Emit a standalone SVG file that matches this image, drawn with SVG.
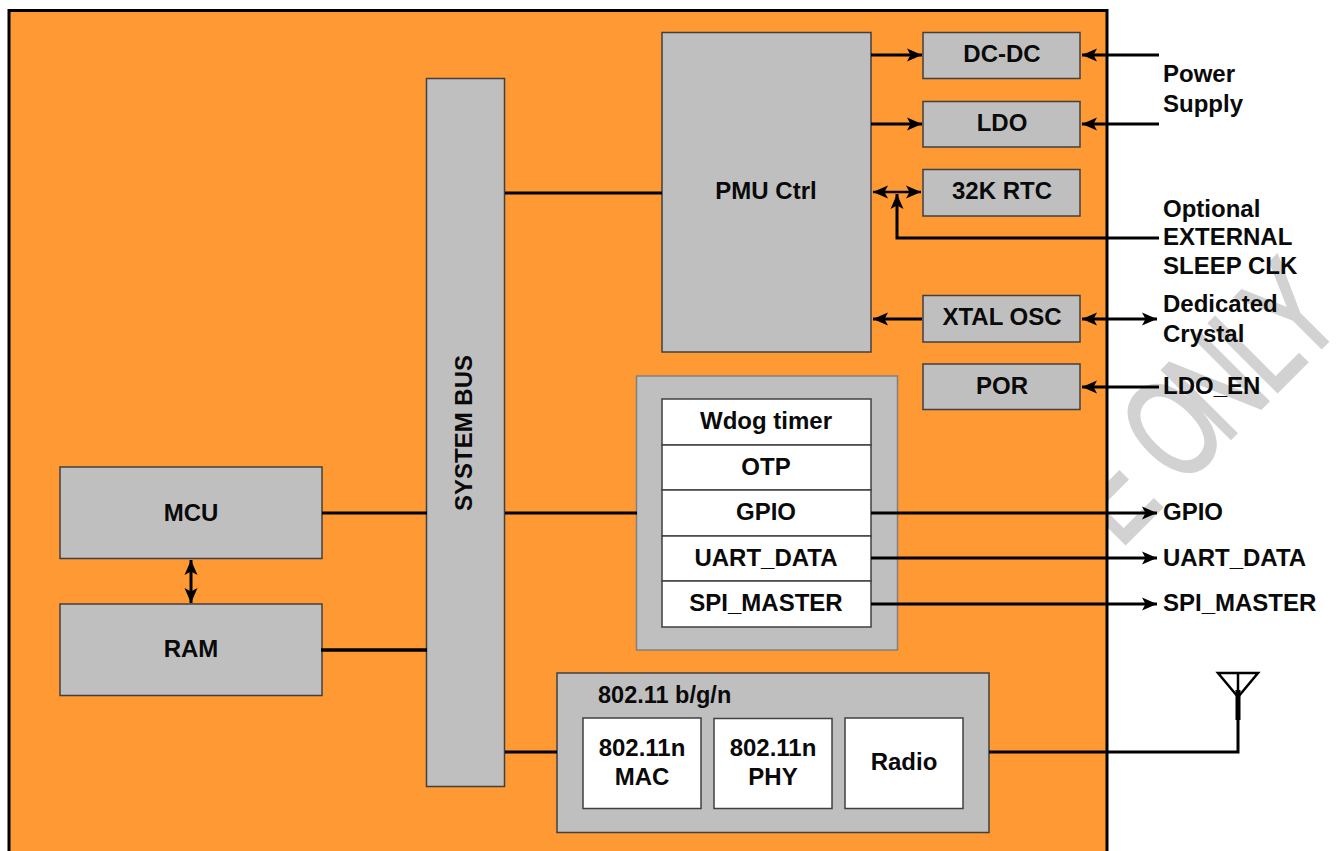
<svg xmlns="http://www.w3.org/2000/svg" width="1338" height="851" viewBox="0 0 1338 851">
<style>
text{font-family:"Liberation Sans",Arial,sans-serif;font-weight:700;font-size:24px;fill:#0a0a0a;text-anchor:middle}
.s{text-anchor:start}
.g{fill:#bfbfbf;stroke:#404040;stroke-width:1.5}
.w{fill:#fff;stroke:#404040;stroke-width:1.5}
.c{fill:none;stroke:#000;stroke-width:3}
.t{stroke-width:2.4}
</style>
<defs>
<marker id="a" markerUnits="userSpaceOnUse" markerWidth="18" markerHeight="15" refX="15" refY="7.500" orient="auto-start-reverse"><path d="M0 1 L15 7.500 L0 14 L3.500 7.500Z" fill="#000"/></marker>
</defs>
<rect width="1338" height="851" fill="#fff"/>
<text id="watermark" x="12 60 138 231 328 391" y="0" transform="translate(1114 555) rotate(-45) scale(.68 1)" style="font-size:140px;font-weight:400;font-kerning:none;fill:#d2d2d2;stroke:#d2d2d2;stroke-width:3;text-anchor:start">E ONLY</text>
<rect id="panel" x="9" y="10.500" width="1098" height="850" fill="#ff9933" stroke="#000" stroke-width="3"/>
<g id="bus"><rect class="g" x="426.500" y="78.500" width="78" height="708"/><text transform="translate(472 433) rotate(-90)">SYSTEM BUS</text></g>
<g id="pmu"><rect class="g" x="662" y="32.500" width="209" height="319.500"/><text x="766" y="199">PMU Ctrl</text></g>
<g id="dcdc"><rect class="g" x="923" y="32.500" width="157" height="46"/><text x="1002" y="62">DC-DC</text></g>
<g id="ldo"><rect class="g" x="923" y="101.500" width="157" height="45.500"/><text x="1002" y="131">LDO</text></g>
<g id="rtc"><rect class="g" x="923" y="169.500" width="157" height="46.500"/><text x="1002" y="199">32K RTC</text></g>
<g id="xtal"><rect class="g" x="923" y="295.500" width="157" height="46.500"/><text x="1002" y="325">XTAL OSC</text></g>
<g id="por"><rect class="g" x="923" y="364" width="157" height="45.500"/><text x="1002" y="393.500">POR</text></g>
<g id="periph"><rect x="636.500" y="376" width="261" height="274" fill="#bfbfbf" stroke="#808080" stroke-width="1.500"/>
<rect class="w" x="662" y="399" width="209" height="46"/><text x="766" y="429">Wdog timer</text>
<rect class="w" x="662" y="445" width="209" height="45"/><text x="766" y="474.500">OTP</text>
<rect class="w" x="662" y="490" width="209" height="46"/><text x="766" y="520">GPIO</text>
<rect class="w" x="662" y="536" width="209" height="45"/><text x="766" y="565.500">UART_DATA</text>
<rect class="w" x="662" y="581" width="209" height="46"/><text x="766" y="611">SPI_MASTER</text></g>
<g id="mcu"><rect class="g" x="60" y="467" width="262" height="91.500"/><text x="191" y="520.500">MCU</text></g>
<g id="ram"><rect class="g" x="60" y="604" width="262" height="91.500"/><text x="191" y="657">RAM</text></g>
<g id="wifi"><rect class="g" x="557" y="673" width="432" height="159.500"/><text class="s" x="598" y="703" style="font-size:23.500px">802.11 b/g/n</text>
<rect class="w" x="583" y="718" width="118" height="90.500"/><text x="642" y="756">802.11n</text><text x="642" y="785">MAC</text>
<rect class="w" x="714" y="718.500" width="118" height="90"/><text x="773" y="756">802.11n</text><text x="773" y="785">PHY</text>
<rect class="w" x="845" y="718" width="118" height="90.500"/><text x="904" y="770">Radio</text></g>
<g id="labels">
<text class="s" x="1163" y="82">Power</text><text class="s" x="1163" y="112">Supply</text>
<text class="s" x="1163" y="217">Optional</text><text class="s" x="1163" y="245">EXTERNAL</text><text class="s" x="1163" y="274">SLEEP CLK</text>
<text class="s" x="1163" y="312">Dedicated</text><text class="s" x="1163" y="342">Crystal</text>
<text class="s" x="1163" y="394">LDO_EN</text><text class="s" x="1163" y="520">GPIO</text><text class="s" x="1163" y="566">UART_DATA</text><text class="s" x="1163" y="611">SPI_MASTER</text>
</g>
<g id="connectors">
<path class="c" d="M505 193H662M322 513H427M505 513H637M505 752H557"/>
<path class="c" d="M321 650H427" style="stroke-width:3.500"/>
<path class="c" d="M871 55H922" marker-end="url(#a)"/>
<path class="c" d="M871 124H922" marker-end="url(#a)"/>
<path class="c t" d="M873 192H921" marker-start="url(#a)" marker-end="url(#a)"/>
<path class="c" d="M1159 238H897V194" marker-end="url(#a)"/>
<path class="c" d="M922 319H873" marker-end="url(#a)"/>
<path class="c" d="M1159 55H1082" marker-end="url(#a)"/>
<path class="c" d="M1159 124H1082" marker-end="url(#a)"/>
<path class="c" d="M1082 319H1157" marker-start="url(#a)" marker-end="url(#a)"/>
<path class="c" d="M1159 387H1082" marker-end="url(#a)"/>
<path class="c" d="M871 513H1157" marker-end="url(#a)"/>
<path class="c" d="M871 558H1157" marker-end="url(#a)"/>
<path class="c" d="M871 604H1157" marker-end="url(#a)"/>
<path class="c" d="M191 560V603" marker-start="url(#a)" marker-end="url(#a)"/>
<path class="c" d="M989 752H1238V690"/>
<path class="c" d="M1238 690V720" style="stroke-width:5"/>
<path class="c" d="M1238 697L1218 673H1258ZM1238 673V697" style="stroke-width:2.500"/>
</g>
</svg>
